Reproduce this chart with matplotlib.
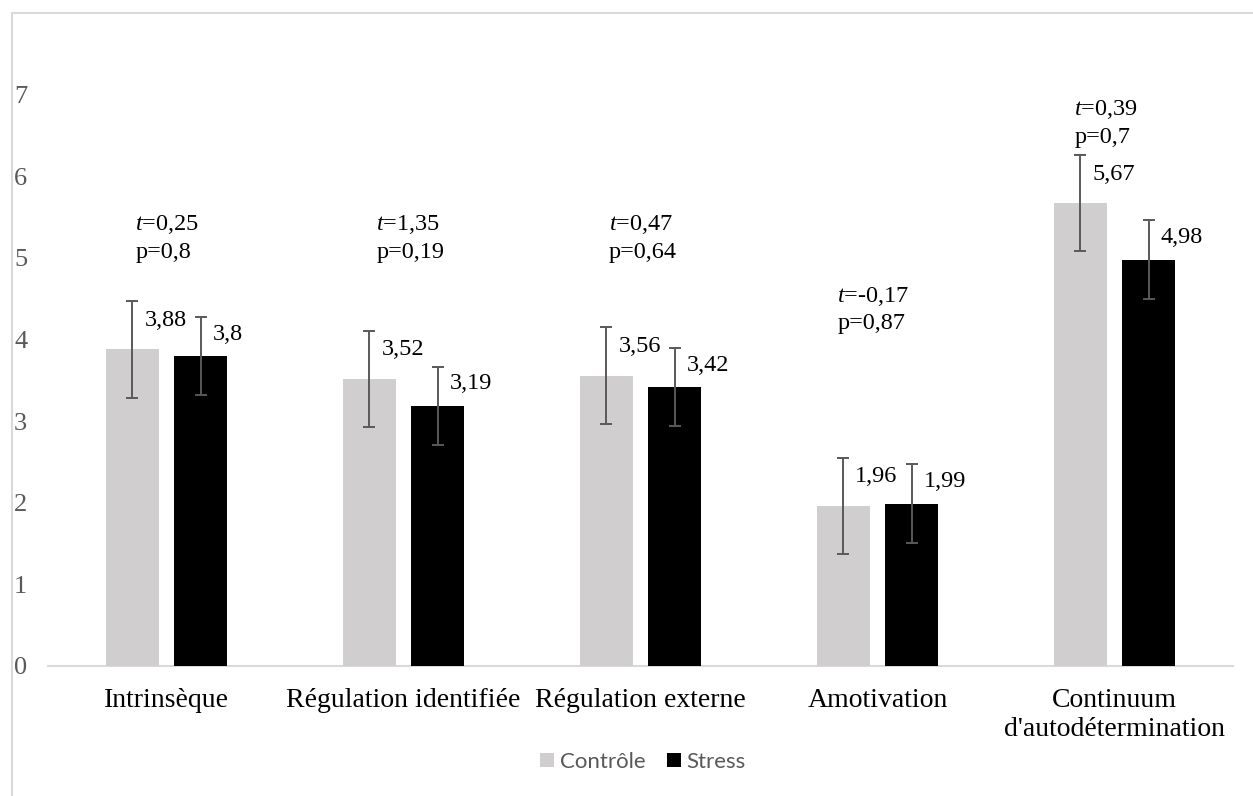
import matplotlib
matplotlib.use("Agg")
import matplotlib.pyplot as plt
from matplotlib.patches import Rectangle, Patch
import numpy as np

# Motivation scores by condition
categories = ["Intrinsèque", "Régulation identifiée", "Régulation externe",
              "Amotivation", "Continuum\nd'autodétermination"]
controle = [3.88, 3.52, 3.56, 1.96, 5.67]
stress = [3.80, 3.19, 3.42, 1.99, 4.98]
err_controle = [0.59, 0.59, 0.59, 0.59, 0.59]
err_stress = [0.48, 0.48, 0.48, 0.48, 0.48]
t_values = ["0,25", "1,35", "0,47", "-0,17", "0,39"]
p_values = ["0,8", "0,19", "0,64", "0,87", "0,7"]
yticks = [0, 1, 2, 3, 4, 5, 6, 7]

plt.rcParams["mathtext.fontset"] = "custom"
plt.rcParams["mathtext.it"] = "Liberation Serif:italic"
plt.rcParams["mathtext.rm"] = "Liberation Serif"

W, H = 1253, 796
fig = plt.figure(figsize=(W / 100, H / 100), dpi=100)

# light chart-area frame
fig.patches.append(Rectangle((12 / W, -0.1), 1.2, 1 - 13 / H + 0.1,
                             transform=fig.transFigure, fill=False,
                             edgecolor="#D9D9D9", linewidth=1.5))

ax = fig.add_axes([48 / W, (H - 666) / H, (1233 - 48) / W, (666 - 13.2) / H])

x = np.arange(len(categories))
bw = 0.2236
off = 0.1435
c_ctrl = "#D0CECE"
c_str = "#000000"
ecol = "#595959"

ax.bar(x - off, controle, bw, color=c_ctrl, zorder=2)
ax.bar(x + off, stress, bw, color=c_str, zorder=2)
ax.errorbar(x - off, controle, yerr=err_controle, fmt="none", ecolor=ecol,
            elinewidth=1.4, capsize=4.5, capthick=1.4, zorder=3)
ax.errorbar(x + off, stress, yerr=err_stress, fmt="none", ecolor=ecol,
            elinewidth=1.4, capsize=4.5, capthick=1.4, zorder=3)

serif = "Liberation Serif"


def fmt(v):
    return f"{v:g}".replace(".", ",")


for i in range(len(categories)):
    ax.text(x[i] - off + 0.05, controle[i] + 0.29, fmt(controle[i]),
            ha="left", va="baseline", fontsize=17.5, family=serif, color="black")
    ax.text(x[i] + off + 0.05, stress[i] + 0.20, fmt(stress[i]),
            ha="left", va="baseline", fontsize=17.5, family=serif, color="black")

# t-test annotations
stat_x = [-0.131, -0.114, -0.135, -0.169, -0.169]
stat_y = [5.34, 5.34, 5.34, 4.46, 6.75]
for i in range(len(categories)):
    ax.text(x[i] + stat_x[i], stat_y[i], f"$t$={t_values[i]}", ha="left",
            va="baseline", fontsize=17.5, family=serif, color="black")
    ax.text(x[i] + stat_x[i], stat_y[i] - 0.335, f"p={p_values[i]}", ha="left",
            va="baseline", fontsize=17.5, family=serif, color="black")

ax.set_xlim(-0.5, len(categories) - 0.5)
ax.set_ylim(0, 8)
ax.set_yticks(yticks)
ax.set_yticklabels([str(v) for v in yticks], family=serif, fontsize=19,
                   color="#595959")
ax.set_xticks(x)
ax.set_xticklabels(categories, family=serif, fontsize=20, color="black",
                   linespacing=1.25)
ax.tick_params(axis="y", length=0, pad=15)
ax.tick_params(axis="x", length=0, pad=15.5)
for s in ["top", "right", "left"]:
    ax.spines[s].set_visible(False)
ax.spines["bottom"].set_color("#D9D9D9")
ax.spines["bottom"].set_linewidth(1.5)
ax.spines["bottom"].set_zorder(1)

handles = [Patch(facecolor=c_ctrl, edgecolor="none", label="Contrôle"),
           Patch(facecolor=c_str, edgecolor="none", label="Stress")]
leg = fig.legend(handles=handles, loc="center", bbox_to_anchor=(0.513, 0.043),
                 ncol=2, frameon=False, prop={"family": "Lato", "size": 16},
                 handlelength=0.65, handleheight=0.65, handletextpad=0.25,
                 columnspacing=0.95, labelcolor="#595959")

fig.savefig("out.png", dpi=100)
